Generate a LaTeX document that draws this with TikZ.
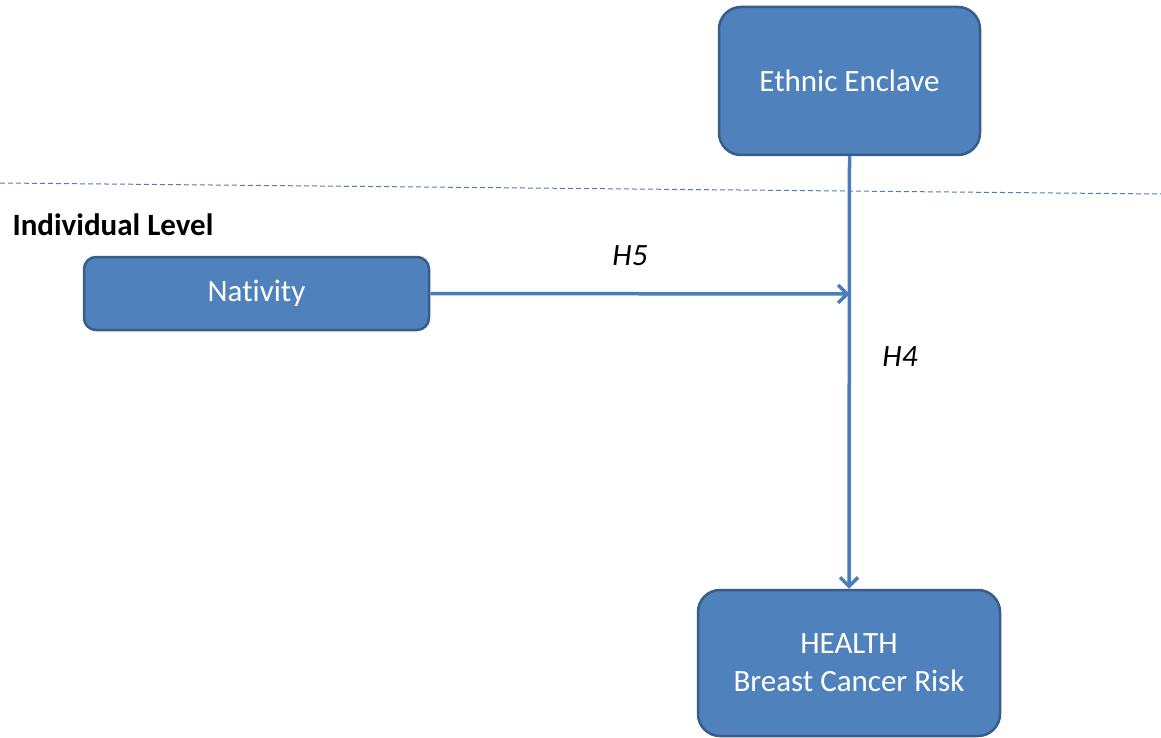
\documentclass[tikz,border=0pt]{standalone}
\usepackage{fontspec}
\setmainfont[Ligatures=NoCommon]{Carlito}
\usetikzlibrary{arrows.meta}
\definecolor{boxfill}{HTML}{4F81BD}
\definecolor{boxdraw}{HTML}{385D8A}
\definecolor{linecol}{HTML}{4A7EBB}
\tikzset{
  bluebox/.style={draw=boxdraw, line width=2.5pt, fill=boxfill, text=white, font=\fontsize{31}{38}\selectfont, align=center, inner sep=0pt},
  conn/.style={draw=linecol, line width=3.5pt, -{Straight Barb[length=9pt,width=18pt,line width=3.5pt]}},
  hlabel/.style={font=\fontsize{31}{36}\selectfont\itshape, text=black}
}
\begin{document}
\begin{tikzpicture}[x=1pt,y=-1pt]
\useasboundingbox (0,0) rectangle (1161,738);
\node[bluebox, rounded corners=22pt, minimum width=261pt, minimum height=148pt] (enclave) at (849.5,81) {Ethnic Enclave};
\node[bluebox, rounded corners=12pt, minimum width=345pt, minimum height=73pt] (nativity) at (256.5,293.5) {Nativity};
\node[bluebox, rounded corners=22pt, minimum width=302pt, minimum height=146pt] (health) at (849,663) {HEALTH\\Breast Cancer Risk};
\coordinate (dl) at (0,183);
\coordinate (dr) at (1161,194);
\draw[draw=linecol, line width=1pt, dash pattern=on 5pt off 3pt] (dl) -- (dr);
\node[anchor=west, font=\fontsize{31}{36}\selectfont\bfseries] (indiv) at (9,225) {Individual Level};
\draw[conn] (enclave.south) -- (health.north);
\coordinate (meet) at (849.5,294);
\draw[conn] (nativity.east) -- (meet);
\node[hlabel] (h5) at (630,256) {H5};
\node[hlabel] (h4) at (900,357) {H4};
\end{tikzpicture}
\end{document}
